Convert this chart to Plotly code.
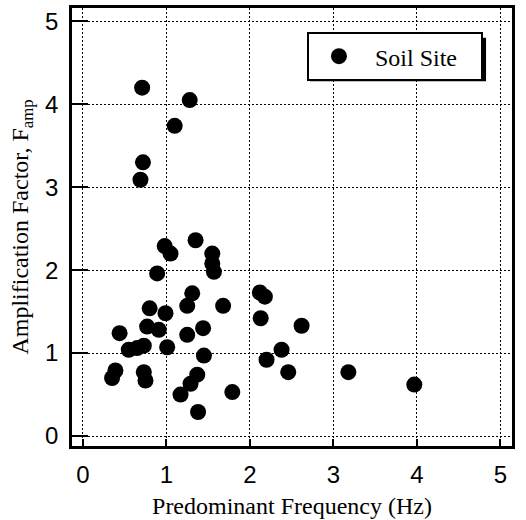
import plotly.graph_objects as go

# Predominant frequency (Hz) and amplification factor
freq = [0.71, 1.28, 1.10, 0.72, 0.69, 1.35, 0.98, 1.05, 1.55, 1.55, 1.57, 0.89,
        1.31, 1.25, 1.68, 2.12, 2.18, 2.13, 2.62, 0.80, 0.99, 0.77, 0.91, 0.44,
        1.44, 1.25, 0.55, 0.65, 0.73, 1.01, 1.45, 0.39, 0.35, 0.73, 0.75, 1.37,
        1.29, 1.17, 1.79, 1.38, 2.38, 2.20, 2.46, 3.18, 3.97]
famp = [4.20, 4.05, 3.74, 3.30, 3.09, 2.36, 2.29, 2.20, 2.20, 2.08, 1.98, 1.96,
        1.72, 1.57, 1.57, 1.73, 1.68, 1.42, 1.33, 1.54, 1.48, 1.32, 1.28, 1.24,
        1.30, 1.22, 1.04, 1.06, 1.09, 1.07, 0.97, 0.79, 0.70, 0.77, 0.67, 0.74,
        0.63, 0.50, 0.53, 0.29, 1.04, 0.92, 0.77, 0.77, 0.62]
series_name = "Soil Site"
tick_vals = [0, 1, 2, 3, 4, 5]

fig = go.Figure()
fig.add_trace(go.Scatter(
    x=freq, y=famp, mode="markers",
    name="\u00a0" + series_name + "\u00a0\u00a0\u00a0",
    marker=dict(color="black", size=16, line=dict(width=0)),
))

axis_common = dict(
    showline=True, linecolor="black", linewidth=2.5, mirror=True,
    showgrid=True, gridcolor="black", gridwidth=1.3, griddash="2px,2px",
    zeroline=False, tickvals=tick_vals, ticks="inside", tickcolor="black",
    tickwidth=2, tickfont=dict(family="Liberation Sans", size=24, color="black"),
)

fig.update_layout(
    width=526, height=520,
    margin=dict(l=72, r=14, t=5, b=72),
    plot_bgcolor="white", paper_bgcolor="white",
    xaxis=dict(range=[-0.13, 5.14], ticklen=7, ticklabelstandoff=5,
               title=dict(text="Predominant Frequency (Hz)", standoff=11,
                          font=dict(family="Liberation Serif", size=24, color="black")),
               **axis_common),
    yaxis=dict(range=[-0.12, 5.16], ticklen=16, ticklabelstandoff=6,
               title=dict(text="Amplification Factor, F<sub>amp</sub>", standoff=10,
                          font=dict(family="Liberation Serif", size=24, color="black")),
               **axis_common),
    showlegend=True,
    legend=dict(x=0.534, y=0.945, xanchor="left", yanchor="top",
                bgcolor="white", bordercolor="black", borderwidth=2,
                font=dict(family="Liberation Serif", size=24, color="black"),
                itemwidth=50),
    shapes=[dict(type="rect", xref="paper", yref="paper",
                 x0=0.541, x1=0.941, y0=0.833, y1=0.932,
                 fillcolor="black", line=dict(width=0), layer="above")],
)

fig.write_html("out.html")
